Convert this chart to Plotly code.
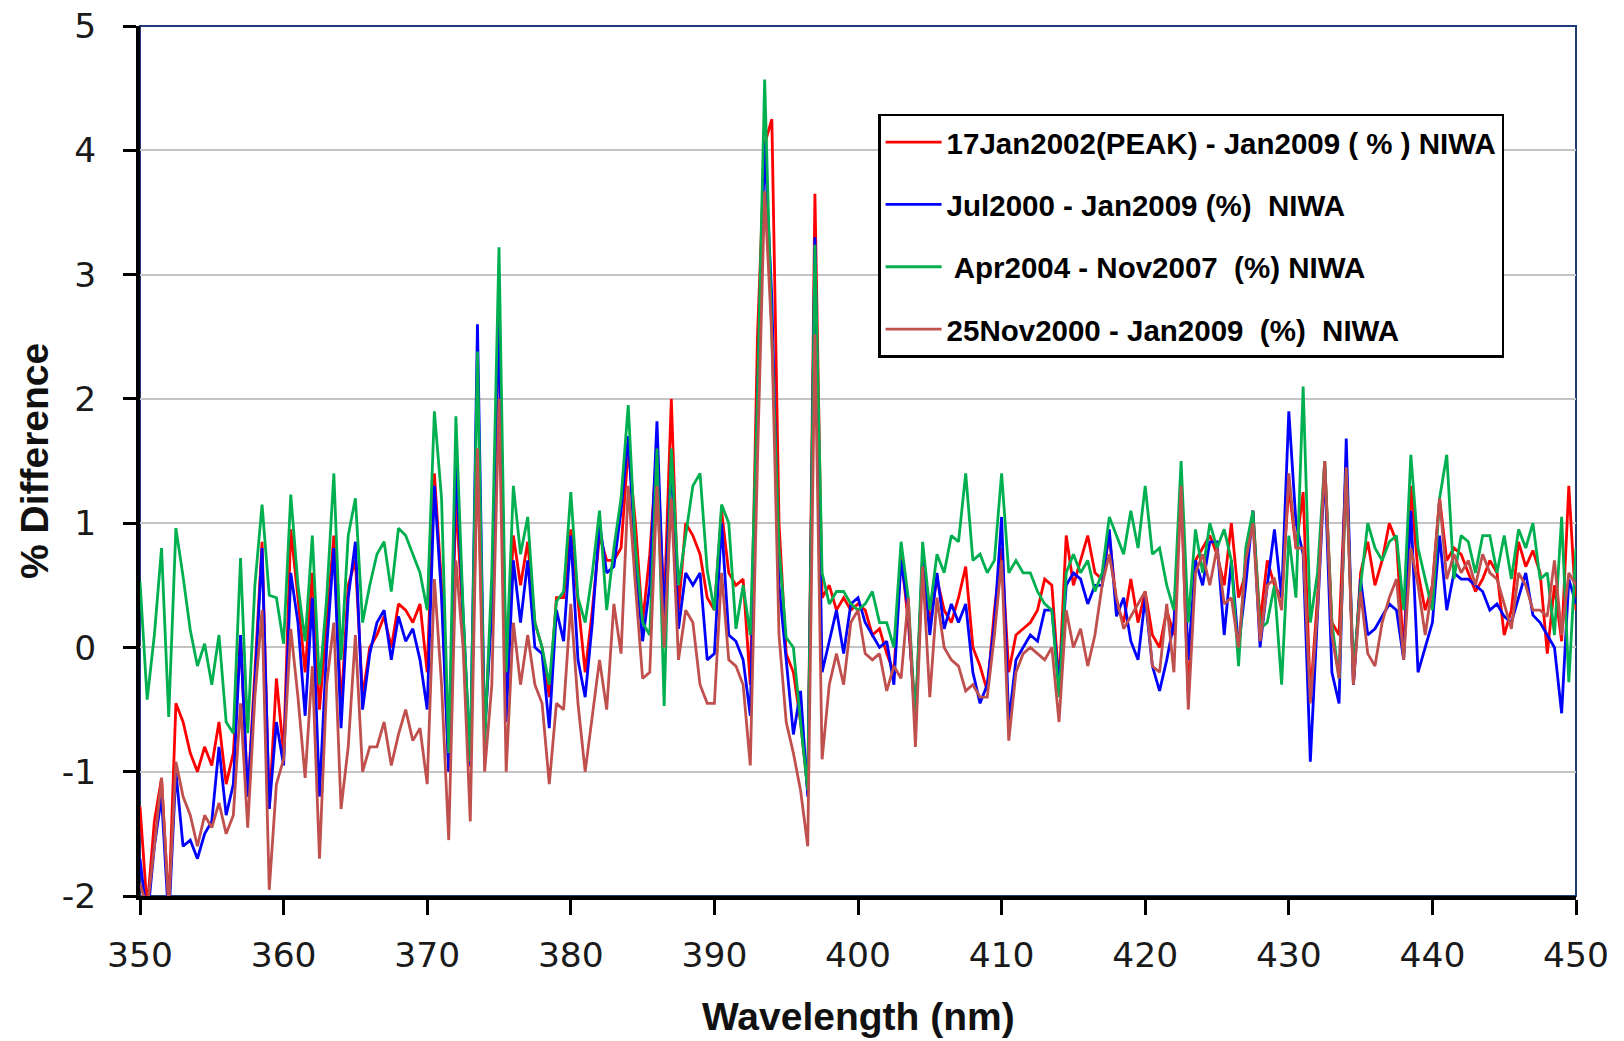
import plotly.graph_objects as go

# Wavelength grid (nm): 350.0 .. 450.0 every 0.5 nm
WL_START = 350.0
WL_STEP = 0.5

# % difference series, 10 values per 5 nm row (350.0 ... 449.5) plus 450.0
red_17jan2002 = [
    -1.28, -2.1, -1.4, -1.05, -2.1, -0.45, -0.6, -0.85, -1.0, -0.8,
    -0.95, -0.6, -1.1, -0.85, 0.1, -1.2, -0.2, 0.85, -1.3, -0.25,
    -0.85, 0.95, 0.4, -0.2, 0.6, -0.5, 0.2, 0.9, -0.5, 0.5,
    0.7, -0.4, 0.0, 0.1, 0.25, 0.0, 0.35, 0.3, 0.2, 0.35,
    -0.2, 1.4, 0.5, -1.0, 1.2, 0.2, -0.96, 1.6, -0.7, 0.4,
    2.6, -0.25, 0.9, 0.5, 0.85, 0.2, 0.0, -0.4, 0.4, 0.4,
    0.95, 0.35, -0.2, 0.3, 0.9, 0.7, 0.7, 0.8, 1.6, 1.0,
    0.2, 0.75, 1.6, 0.3, 2.0, 0.3, 1.0, 0.9, 0.75, 0.4,
    0.3, 1.1, 0.6, 0.5, 0.55, -0.3, 2.5, 4.05, 4.25, 1.0,
    -0.05, -0.2, -0.6, -1.15, 3.65, 0.4, 0.5, 0.3, 0.4, 0.3,
    0.35, 0.3, 0.1, 0.15, -0.05, -0.2, 0.75, 0.2, -0.55, 0.7,
    0.2, 0.55, 0.3, 0.2, 0.4, 0.65, 0.0, -0.15, -0.35, 0.3,
    0.8, -0.2, 0.1, 0.15, 0.2, 0.3, 0.55, 0.5, -0.3, 0.9,
    0.5, 0.7, 0.9, 0.6, 0.55, 0.9, 0.35, 0.2, 0.55, 0.2,
    0.45, 0.1, 0.0, 0.3, 0.1, 1.3, -0.4, 0.7, 0.8, 0.9,
    0.75, 0.5, 1.0, 0.4, 0.6, 1.1, 0.2, 0.7, 0.5, 0.4,
    1.3, 0.8, 1.25, -0.4, 0.4, 1.5, 0.2, 0.1, 1.5, -0.3,
    0.6, 0.85, 0.5, 0.7, 1.0, 0.85, -0.05, 1.3, 0.6, 0.3,
    0.5, 1.2, 0.7, 0.8, 0.75, 0.6, 0.45, 0.55, 0.7, 0.6,
    0.1, 0.3, 0.85, 0.65, 0.78, 0.6, -0.05, 0.5, 0.05, 1.3,
    0.3,
]

blue_jul2000 = [
    -1.7, -2.2, -1.6, -1.2, -2.2, -1.0, -1.6, -1.55, -1.7, -1.5,
    -1.4, -0.8, -1.35, -1.1, 0.1, -1.2, -0.3, 0.8, -1.3, -0.6,
    -0.95, 0.6, 0.2, -0.55, 0.4, -1.2, 0.0, 0.8, -0.65, 0.4,
    0.85, -0.5, -0.05, 0.2, 0.3, -0.1, 0.25, 0.05, 0.15, -0.1,
    -0.5, 1.3, 0.4, -1.0, 1.5, 0.3, -0.95, 2.6, -0.7, 0.3,
    2.7, -0.6, 0.7, 0.2, 0.7, 0.0, -0.05, -0.65, 0.3, 0.05,
    0.9, -0.1, -0.4, 0.2, 1.0, 0.6, 0.65, 1.1, 1.7, 0.7,
    0.05, 0.5, 1.82, 0.2, 1.5, 0.15, 0.6, 0.5, 0.6, -0.1,
    -0.05, 1.0, 0.1, 0.05, -0.1, -0.55, 2.0, 4.06, 2.8, 0.5,
    -0.1, -0.7, -0.35, -1.2, 3.3, -0.2, 0.05, 0.3, -0.05, 0.35,
    0.4, 0.2, 0.1, 0.0, 0.05, -0.3, 0.7, 0.3, -0.65, 0.75,
    0.1, 0.6, 0.15, 0.35, 0.2, 0.35, -0.2, -0.45, -0.3, 0.2,
    1.05, -0.6, -0.1, 0.0, 0.1, 0.05, 0.3, 0.3, -0.3, 0.5,
    0.6, 0.55, 0.35, 0.5, 0.5, 0.95, 0.25, 0.4, 0.05, -0.1,
    0.4, -0.15, -0.35, -0.1, 0.2, 1.3, -0.1, 0.7, 0.5, 0.85,
    0.85, 0.1, 0.7, 0.0, 0.5, 1.1, 0.0, 0.5, 0.95, 0.4,
    1.9, 1.0, 0.75, -0.92, 0.3, 1.45, -0.2, -0.45, 1.68, -0.3,
    0.55, 0.1, 0.15, 0.25, 0.35, 0.3, -0.1, 1.1, -0.2, 0.0,
    0.2, 0.9, 0.3, 0.6, 0.55, 0.55, 0.5, 0.45, 0.3, 0.35,
    0.25, 0.2, 0.4, 0.6, 0.26, 0.2, 0.1, 0.0, -0.53, 0.55,
    0.35,
]

green_apr2004 = [
    0.53, -0.42, 0.1, 0.8, -0.56, 0.96, 0.57, 0.14, -0.15, 0.03,
    -0.3, 0.1, -0.6, -0.69, 0.72, -0.69, 0.5, 1.15, 0.42, 0.4,
    0.03, 1.23, 0.5, 0.05, 0.9, -0.3, 0.4, 1.4, -0.1, 0.9,
    1.2, 0.2, 0.5, 0.75, 0.85, 0.45, 0.96, 0.9, 0.75, 0.6,
    0.3, 1.9, 1.2, -0.85, 1.86, 0.3, -0.92, 2.38, -0.78, 0.6,
    3.22, -0.2, 1.3, 0.75, 1.05, 0.2, 0.0, -0.3, 0.37, 0.45,
    1.25, 0.4, 0.2, 0.6, 1.1, 0.3, 0.8, 1.2, 1.95, 0.8,
    0.2, 0.1, 1.6, -0.47, 1.6, 0.5, 0.9, 1.3, 1.4, 0.62,
    0.3, 1.15, 1.0, 0.15, 0.5, 0.1, 2.0, 4.57, 2.5, 0.8,
    0.08, 0.0, -0.6, -1.15, 3.24, 0.6, 0.35, 0.45, 0.45, 0.35,
    0.3, 0.35, 0.45, 0.2, 0.2, 0.0, 0.85, 0.4, -0.6, 0.85,
    0.3, 0.75, 0.6, 0.9, 0.85, 1.4, 0.7, 0.75, 0.6, 0.7,
    1.4, 0.6, 0.7, 0.6, 0.6, 0.45, 0.35, 0.3, -0.4, 0.6,
    0.75, 0.6, 0.7, 0.45, 0.6, 1.05, 0.9, 0.75, 1.1, 0.8,
    1.3, 0.75, 0.8, 0.5, 0.3, 1.5, 0.2, 0.95, 0.6, 1.0,
    0.8, 0.95, 0.7, -0.15, 0.8, 1.1, 0.15, 0.2, 0.5, -0.3,
    0.9, 0.4, 2.1, 0.2, 0.6, 1.5, 0.2, -0.25, 1.4, -0.2,
    0.5, 1.0, 0.8, 0.7, 0.85, 0.9, 0.3, 1.55, 0.8, 0.55,
    0.3, 1.2, 1.55, 0.55, 0.9, 0.85, 0.6, 0.9, 0.9, 0.6,
    0.9, 0.55, 0.95, 0.8, 1.0, 0.55, 0.6, 0.1, 1.05, -0.28,
    0.8,
]

brown_25nov2000 = [
    -1.9, -2.1, -1.6, -1.05, -2.1, -0.92, -1.2, -1.35, -1.6, -1.35,
    -1.45, -1.25, -1.5, -1.35, -0.45, -1.45, -0.4, 0.3, -1.95, -1.1,
    -0.9, 0.15, -0.4, -1.05, -0.15, -1.7, -0.3, 0.2, -1.3, -0.8,
    0.1, -1.0, -0.8, -0.8, -0.6, -0.95, -0.7, -0.5, -0.75, -0.65,
    -1.1, 0.55, -0.3, -1.55, 0.7, 0.0, -1.4, 1.6, -1.0, -0.3,
    2.0, -1.0, 0.2, -0.3, 0.1, -0.3, -0.45, -1.1, -0.45, -0.5,
    0.35, -0.45, -1.0, -0.55, -0.1, -0.5, 0.35, -0.05, 1.3, 0.5,
    -0.25, -0.2, 1.3, 0.0, 1.2, -0.1, 0.3, 0.2, -0.3, -0.45,
    -0.45, 0.6, -0.1, -0.15, -0.3, -0.95, 1.5, 3.67, 2.5, 0.1,
    -0.6, -0.85, -1.15, -1.6, 2.52, -0.9, -0.3, -0.05, -0.3, 0.2,
    0.3, -0.05, -0.1, -0.05, -0.35, -0.15, -0.25, 0.4, -0.8, 0.65,
    -0.4, 0.4, 0.0, -0.1, -0.15, -0.35, -0.3, -0.4, -0.4, 0.1,
    0.7, -0.75, -0.2, -0.05, 0.0, -0.05, -0.1, 0.0, -0.6, 0.3,
    0.0, 0.15, -0.15, 0.1, 0.5, 0.75, 0.4, 0.15, 0.25, 0.35,
    0.45, -0.15, -0.2, 0.35, -0.2, 1.3, -0.5, 0.6, 0.75, 0.5,
    0.8, 0.35, 0.4, 0.0, 0.7, 1.0, 0.05, 0.5, 0.55, 0.3,
    1.4, 0.8, 0.8, -0.45, 0.3, 1.5, 0.1, -0.25, 1.45, -0.3,
    0.45, -0.05, -0.15, 0.2, 0.4, 0.55, -0.1, 0.8, 0.5, 0.1,
    0.5, 1.2, 0.55, 0.75, 0.6, 0.7, 0.5, 0.75, 0.6, 0.55,
    0.35, 0.15, 0.6, 0.5, 0.3, 0.3, 0.25, 0.7, 0.1, 0.6,
    0.5,
]

series_names = [
    "17Jan2002(PEAK) - Jan2009 ( % ) NIWA",
    "Jul2000 - Jan2009 (%)  NIWA",
    " Apr2004 - Nov2007  (%) NIWA",
    "25Nov2000 - Jan2009  (%)  NIWA",
]
series_colors = ["#FF0000", "#0000FF", "#00B050", "#C0504D"]
series_values = [red_17jan2002, blue_jul2000, green_apr2004, brown_25nov2000]

x_ticks = [350, 360, 370, 380, 390, 400, 410, 420, 430, 440, 450]
y_ticks = [-2, -1, 0, 1, 2, 3, 4, 5]

n = len(red_17jan2002)
for s in series_values:
    assert len(s) == n, len(s)
wavelength = [WL_START + WL_STEP * i for i in range(n)]

fig = go.Figure()
for name, color, vals in zip(series_names, series_colors, series_values):
    fig.add_trace(go.Scatter(
        x=wavelength, y=vals, mode="lines", name=name,
        legendgroup=name,
        line=dict(color=color, width=2.8),
    ))

tick_font = dict(family="DejaVu Sans", size=34.5, color="#1a1a1a")
title_font = dict(family="Liberation Sans", size=39, color="#111111", weight="bold")

fig.update_layout(
    width=1624, height=1041,
    margin=dict(l=140, r=48, t=26, b=145),
    paper_bgcolor="white", plot_bgcolor="white",
    showlegend=True,
    legend=dict(
        x=0.514, y=0.899, xanchor="left", yanchor="top",
        bgcolor="white", bordercolor="black", borderwidth=2.5,
        font=dict(family="Liberation Sans", size=29.5, color="black", weight="bold"),
        tracegroupgap=21, itemwidth=56,
        entrywidth=678, entrywidthmode="pixels",
    ),
    xaxis=dict(
        range=[350, 450], tickvals=x_ticks, ticktext=[str(v) for v in x_ticks],
        showgrid=False, zeroline=False, automargin=False,
        showline=True, linecolor="black", linewidth=4,
        ticks="outside", ticklen=15, tickwidth=2.5, tickcolor="black",
        tickfont=tick_font, ticklabelstandoff=11, ticklabeloverflow="allow",
    ),
    yaxis=dict(
        range=[-2, 5], tickvals=y_ticks, ticktext=[str(v) for v in y_ticks],
        showgrid=True, gridcolor="#C4C4C4", gridwidth=1.5, zeroline=False,
        automargin=False,
        showline=True, linecolor="black", linewidth=4,
        ticks="outside", ticklen=13, tickwidth=2.5, tickcolor="black",
        tickfont=tick_font, ticklabelstandoff=20, ticklabeloverflow="allow",
    ),
    shapes=[dict(
        type="rect", xref="paper", yref="paper", x0=0, x1=1, y0=0, y1=1,
        line=dict(color="#1F3B7A", width=2), layer="below",
    )],
    annotations=[
        dict(text="Wavelength (nm)", xref="paper", yref="paper",
             x=0.5, y=-0.138, xanchor="center", yanchor="middle",
             showarrow=False, font=title_font),
        dict(text="% Difference", xref="paper", yref="paper",
             x=-0.0738, y=0.5, xanchor="center", yanchor="middle",
             textangle=-90, showarrow=False, font=title_font),
    ],
)

fig.write_html(
    "out.html",
    config={"displayModeBar": False},
    post_script="document.body.style.margin='0';document.body.style.overflow='hidden';",
)
